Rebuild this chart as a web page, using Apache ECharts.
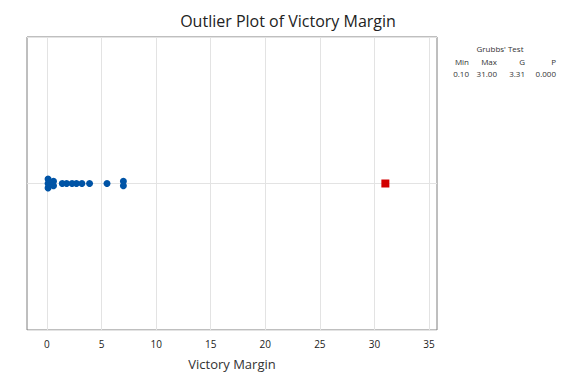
<!DOCTYPE html>
<html>
<head>
<meta charset="utf-8">
<script src="https://cdn.jsdelivr.net/npm/echarts@6/dist/echarts.min.js"></script>
<style>html,body{margin:0;padding:0;background:#fff;}#chart{width:576px;height:384px;}</style>
</head>
<body>
<div id="chart"></div>
<script>
// Data
const victoryMargin = [0.1, 0.1, 0.1, 0.6, 0.6, 1.4, 1.8, 2.3, 2.7, 3.2, 3.9, 5.5, 7.0, 7.0];
const stackLevel    = [-1, 0, 1, -0.5, 0.5, 0, 0, 0, 0, 0, 0, 0, -0.5, 0.5];
const outliers = [31.0];
const xTicks = [0, 5, 10, 15, 20, 25, 30, 35];
const grubbsTitle = "Grubbs' Test";
const grubbsHeaders = ['Min', 'Max', 'G', 'P'];
const grubbsValues = ['0.10', '31.00', '3.31', '0.000'];

const STEP = 0.03;
const normalData = victoryMargin.map((v, i) => [v, stackLevel[i] * STEP]);
const outlierData = outliers.map(v => [v, 0]);

const font = '"Open Sans", "Noto Sans", sans-serif';
const colRight = [469, 497, 525, 556];
const graphics = [{
  type: 'text',
  style: { text: grubbsTitle, x: 500, y: 48, align: 'center', verticalAlign: 'middle', font: '8px ' + font, fill: '#333' }
}];
grubbsHeaders.forEach((h, i) => {
  graphics.push({ type: 'text', style: { text: h, x: colRight[i], y: 61, align: 'right', verticalAlign: 'middle', font: '8px ' + font, fill: '#333' } });
  graphics.push({ type: 'text', style: { text: grubbsValues[i], x: colRight[i], y: 73, align: 'right', verticalAlign: 'middle', font: '8px ' + font, fill: '#333' } });
});

const chart = echarts.init(document.getElementById('chart'), null, { renderer: 'svg' });
chart.setOption({
  animation: false,
  backgroundColor: '#fff',
  title: {
    text: 'Outlier Plot of Victory Margin',
    left: 'center', top: 8,
    textStyle: { fontFamily: font, fontSize: 16, fontWeight: 'normal', color: '#222' }
  },
  grid: { left: 27, right: 139, top: 37, bottom: 54, show: true, borderColor: '#7f7f7f', borderWidth: 1, backgroundColor: 'transparent' },
  xAxis: {
    type: 'value', min: -1.83, max: 35.73,
    name: 'Victory Margin', nameLocation: 'middle', nameGap: 27,
    nameTextStyle: { fontFamily: font, fontSize: 13, color: '#333' },
    axisLine: { show: false },
    axisTick: { show: false, customValues: xTicks },
    axisLabel: { customValues: xTicks, fontFamily: font, fontSize: 10, color: '#222', margin: 9 },
    splitLine: { show: true, lineStyle: { color: '#e3e3e3', width: 1 } }
  },
  yAxis: {
    type: 'value', min: -1, max: 1, interval: 1,
    axisLine: { show: false }, axisTick: { show: false }, axisLabel: { show: false },
    splitLine: { show: true, lineStyle: { color: '#e3e3e3', width: 1 } }
  },
  series: [
    { type: 'scatter', data: normalData, symbol: 'circle', symbolSize: 7, itemStyle: { color: '#0054a6', opacity: 1 }, z: 3 },
    { type: 'scatter', data: outlierData, symbol: 'rect', symbolSize: 8, itemStyle: { color: '#d20000', opacity: 1 }, z: 3 }
  ],
  graphic: graphics
});
</script>
</body>
</html>
